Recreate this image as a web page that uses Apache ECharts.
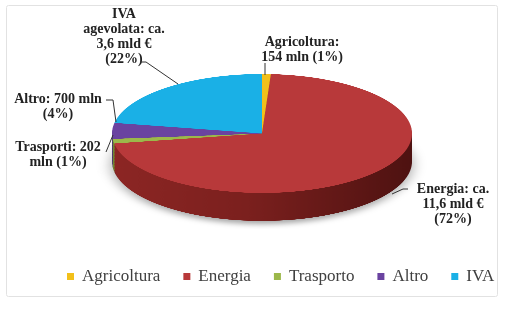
<!DOCTYPE html>
<html>
<head>
<meta charset="utf-8">
<script src="https://cdn.jsdelivr.net/npm/echarts@6/dist/echarts.min.js"></script>
<style>
  html, body { margin: 0; padding: 0; background: #fff; }
  #wrap { position: relative; width: 511px; height: 312px; overflow: hidden; }
  #pie { position: absolute; left: 0; top: 70px; width: 511px; height: 400px;
         transform-origin: 0 0; transform: scaleY(0.3967); }
  #main { position: absolute; left: 0; top: 0; width: 511px; height: 312px; }
</style>
</head>
<body>
<div id="wrap">
  <div id="pie"></div>
  <div id="main"></div>
</div>
<script>
// ---- data ----
var categories = ['Agricoltura', 'Energia', 'Trasporto', 'Altro', 'IVA'];
var valuesMln = [154, 11600, 202, 700, 3600];
var topColors = ['#f2c01a', '#b8393a', '#9cb84a', '#6a43a0', '#1ab0e6'];
var sideColors = ['#b8920f', null, '#6f8a30', '#4a2c75', '#1180ab'];
var labelTexts = [
  'Agricoltura:\n154 mln (1%)',
  'Energia: ca.\n11,6 mld €\n(72%)',
  'Trasporti: 202\nmln (1%)',
  'Altro: 700 mln\n(4%)',
  'IVA\nagevolata: ca.\n3,6 mld €\n(22%)'
];

// ---- 3D-ish pie (vertically squashed via CSS) ----
var S = 0.3967;           // vertical squash
var thickness = 28;       // screen px
var cx = 262, cy = 160, R = 150;
var pieChart = echarts.init(document.getElementById('pie'), null, {devicePixelRatio: 2});

function pieData(side) {
  return categories.map(function (c, i) {
    var color;
    if (side) {
      color = i === 1 ? new echarts.graphic.LinearGradient(0, 0, 1, 0, [
        {offset: 0, color: '#8c2624'},
        {offset: 0.45, color: '#7b201e'},
        {offset: 1, color: '#4e1211'}
      ]) : sideColors[i];
    } else {
      color = topColors[i];
    }
    return {name: c, value: valuesMln[i], itemStyle: {color: color}};
  });
}

var series = [];
var layers = [];
for (var k = thickness; k >= 1; k -= 1.5) layers.push(k);
layers.forEach(function (k, idx) {
  series.push({
    type: 'pie', silent: true, animation: false,
    startAngle: 90, clockwise: true,
    center: [cx, cy + k / S], radius: R,
    label: {show: false}, labelLine: {show: false},
    z: idx + 1,
    itemStyle: idx === 0 ? {shadowBlur: 14, shadowColor: 'rgba(0,0,0,0.35)', shadowOffsetY: 8} : {},
    data: pieData(true)
  });
});
series.push({
  type: 'pie', silent: true, animation: false,
  startAngle: 90, clockwise: true,
  center: [cx, cy], radius: R,
  label: {show: false}, labelLine: {show: false},
  z: 100,
  data: pieData(false)
});
pieChart.setOption({animation: false, series: series});

// ---- labels, leader lines, legend, frame ----
var main = echarts.init(document.getElementById('main'));
var labelFont = 'bold 14px "Liberation Serif", serif';
function lbl(i, x, y) {
  return {type: 'text', x: x, y: y, z: 50, silent: true,
    style: {text: labelTexts[i], font: labelFont, fill: '#222', align: 'center',
            verticalAlign: 'top', lineHeight: 15}};
}
function line(pts) {
  return {type: 'polyline', z: 50, silent: true,
    shape: {points: pts}, style: {stroke: '#333', lineWidth: 1, fill: null}};
}
main.setOption({
  animation: false,
  color: topColors,
  legend: {
    left: 67, top: 268, padding: 0, icon: 'rect', itemWidth: 7, itemHeight: 7, itemGap: 23,
    selectedMode: false,
    textStyle: {fontFamily: '"Liberation Serif", serif', fontSize: 17, color: '#404040', padding: [0, 0, 0, 3]},
    data: categories
  },
  series: [{
    type: 'pie', radius: [0, 0], center: [-50, -50], silent: true,
    label: {show: false}, labelLine: {show: false},
    data: categories.map(function (c, i) { return {name: c, value: valuesMln[i]}; })
  }],
  graphic: [
    {type: 'rect', z: 0, silent: true, shape: {x: 6.5, y: 5.5, width: 491, height: 291, r: 2},
     style: {fill: null, stroke: '#e2e2e2', lineWidth: 1}},
    lbl(4, 124, 7),
    lbl(3, 58, 92),
    lbl(2, 58, 140),
    lbl(0, 302, 35),
    lbl(1, 453, 182),
    line([[140, 62], [146, 62], [178, 84]]),
    line([[106, 100], [113, 100], [116, 122]]),
    line([[106, 152], [113, 135]]),
    line([[265, 63], [265, 75]]),
    line([[392, 194], [403, 189], [408, 189]])
  ]
});
</script>
</body>
</html>
